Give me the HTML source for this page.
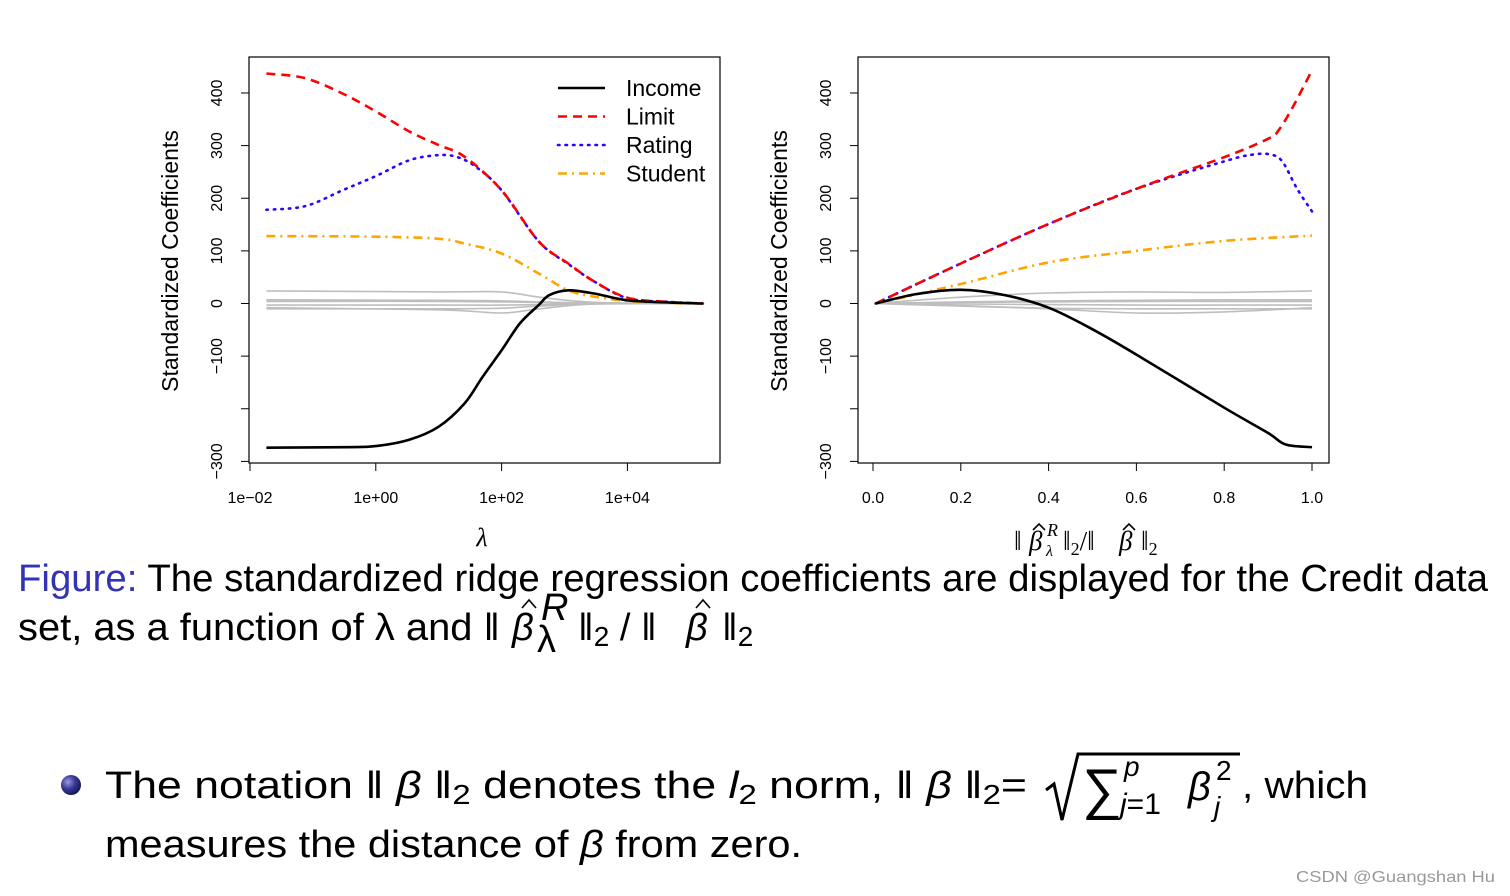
<!DOCTYPE html>
<html><head><meta charset="utf-8"><style>
html,body{margin:0;padding:0;background:#fff;}
svg{display:block;}
.tk{font-family:"Liberation Sans",sans-serif;font-size:16px;fill:#000;}
.cap{font-family:"Liberation Sans Narrow","Liberation Sans",sans-serif;font-size:38px;fill:#000;}
.hat{fill:none;stroke:#000;stroke-width:1.6;}
</style></head><body>
<svg id="root" width="1510" height="896" viewBox="0 0 1510 896" xmlns="http://www.w3.org/2000/svg">
<g id="left"></g>
<g id="right"></g>

<text x="482" y="546" font-family="Liberation Serif,serif" font-style="italic" font-size="26" text-anchor="middle">λ</text>
<g font-family="Liberation Serif,serif" font-size="27">
<text x="1014" y="550">‖</text>
<text x="1029" y="550" font-style="italic">β</text>
<path class="hat" d="M1033,530 L1039,524 L1045,530"/>
<text x="1047" y="536" font-size="18" font-style="italic">R</text>
<text x="1046" y="556" font-size="16" font-style="italic">λ</text>
<text x="1063" y="550">‖<tspan font-size="18" dy="5">2</tspan><tspan dy="-5">/‖</tspan></text>
<text x="1119" y="550" font-style="italic">β</text>
<path class="hat" d="M1123,530 L1129,524 L1135,530"/>
<text x="1141" y="550">‖<tspan font-size="18" dy="5">2</tspan></text>
</g>

<text class="cap" x="18" y="591" textLength="1470" lengthAdjust="spacingAndGlyphs"><tspan fill="#3333b3">Figure:</tspan> The standardized ridge regression coefficients are displayed for the Credit data</text>
<g>
<text class="cap" x="18" y="640" textLength="482" lengthAdjust="spacingAndGlyphs">set, as a function of λ and ‖</text>
<text class="cap" x="512" y="640" font-style="italic">β</text>
<path class="hat" stroke-width="2" d="M522,608 L529,600 L536,608"/>
<text class="cap" x="541" y="620" font-size="26" font-style="italic">R</text>
<text class="cap" x="537" y="652" font-size="26">λ</text>
<text class="cap" x="578" y="640">‖<tspan font-size="28" dy="6">2</tspan><tspan dy="-6"> / ‖</tspan></text>
<text class="cap" x="686" y="640" font-style="italic">β</text>
<path class="hat" stroke-width="2" d="M696,608 L703,600 L710,608"/>
<text class="cap" x="722" y="640">‖<tspan font-size="28" dy="6">2</tspan></text>
</g>

<defs><radialGradient id="bg" cx="0.35" cy="0.35" r="0.7"><stop offset="0" stop-color="#9a9ae0"/><stop offset="0.5" stop-color="#3a3a9a"/><stop offset="1" stop-color="#14144a"/></radialGradient></defs>
<circle cx="71" cy="785" r="10" fill="url(#bg)"/>
<text class="cap" x="105" y="798" textLength="922" lengthAdjust="spacingAndGlyphs">The notation ‖ <tspan font-style="italic">β</tspan> ‖<tspan font-size="28" dy="6">2</tspan><tspan dy="-6"> denotes the </tspan><tspan font-style="italic">l</tspan><tspan font-size="28" dy="6">2</tspan><tspan dy="-6"> norm, ‖ </tspan><tspan font-style="italic">β</tspan> ‖<tspan font-size="28" dy="6">2</tspan><tspan dy="-6">=</tspan></text>
<g font-family="Liberation Sans,sans-serif">
<path d="M1046,790 L1054,784 L1062,820 L1078,754 L1240,754" fill="none" stroke="#000" stroke-width="3"/>
<text x="1082" y="808" font-size="56">∑</text>
<text x="1124" y="776" font-size="28" font-style="italic">p</text>
<text x="1120" y="814" font-size="30"><tspan font-style="italic">j</tspan>=1</text>
<text x="1188" y="800" font-size="40" font-style="italic">β</text>
<text x="1216" y="780" font-size="28">2</text>
<text x="1214" y="816" font-size="28" font-style="italic">j</text>
</g>
<text class="cap" x="1242" y="798" textLength="126" lengthAdjust="spacingAndGlyphs">, which</text>
<text class="cap" x="105" y="857" textLength="697" lengthAdjust="spacingAndGlyphs">measures the distance of <tspan font-style="italic">β</tspan> from zero.</text>
<text x="1296" y="882" font-family="Liberation Sans,sans-serif" font-size="16" fill="#999" textLength="199" lengthAdjust="spacingAndGlyphs">CSDN @Guangshan Hu</text>
</svg>
<script>
// ---- Left plot data (x = log10 lambda) ----
const leftIncomeX = [-1.74,-0.5,0,0.53,1,1.41,1.7,2,2.29,2.59,2.76,3.06,3.47,4,4.65,5.2];
const leftIncomeY = [-274,-273,-271,-259,-234,-190,-139,-89,-38,-3,16,25,19,6,2,0];
const leftLimitX = [-1.74,-1.12,-0.53,0,0.53,1,1.41,2,2.59,3.06,3.47,4,4.65,5.2];
const leftLimitY = [437,428,399,365,327,301,279,215,118,76,42,11,3,0];
const leftRatingX = [-1.74,-1.12,-0.53,0,0.53,1,1.3,1.6,2,2.59,3.06,3.47,4,4.65,5.2];
const leftRatingY = [178,185,215,242,272,282,278,259,215,118,75,42,10,3,0];
const leftStudentX = [-1.74,0,1,1.41,2,2.59,3.06,3.47,4,4.65,5.2];
const leftStudentY = [128,127,123,114,95,57,25,13,5,1,0];
const leftGrayX = [-1.74,1,2,2.6,3.5,5.2];
const leftGray1 = [24,22,22,12,2,0];
const leftGray2 = [7,6,5,3,1,0];
const leftGray3 = [4,4,3,2,0,0];
const leftGray4 = [-3,-3,-3,-2,0,0];
const leftGray5 = [-8,-12,-18,-10,-1,0];
const leftGray6 = [-10,-10,-9,-5,-1,0];
// ---- Right plot data (x = norm ratio) ----
const rightIncomeX = [0.006,0.1,0.2,0.3,0.4,0.5,0.6,0.8,0.9,0.94,1.0];
const rightIncomeY = [0,18,26,16,-8,-49,-97,-198,-246,-268,-273];
const rightLimitX = [0.006,0.2,0.4,0.6,0.8,0.9,0.924,0.958,1.0];
const rightLimitY = [0,76,151,218,278,313,329,376,443];
const rightRatingX = [0.006,0.2,0.4,0.6,0.8,0.865,0.907,0.933,0.966,1.0];
const rightRatingY = [0,76,151,218,270,283,283,269,218,175];
const rightStudentX = [0.006,0.2,0.4,0.6,0.8,1.0];
const rightStudentY = [0,37,78,100,119,129];
const rightGrayX = [0.006,0.2,0.4,0.6,0.8,1.0];
const rightGray1 = [0,12,20,22,21,24];
const rightGray2 = [0,3,5,6,7,7];
const rightGray3 = [0,2,3,4,4,4];
const rightGray4 = [0,-1,-2,-3,-3,-3];
const rightGray5 = [0,-4,-10,-18,-16,-8];
const rightGray6 = [0,-5,-9,-10,-10,-10];
// ---- Ticks ----
const yTicks = [-300,-200,-100,0,100,200,300,400];
const yTickLabels = ["\u2212300","","\u2212100","0","100","200","300","400"];
const leftXTicks = [-2,0,2,4];
const leftXTickLabels = ["1e\u221202","1e+00","1e+02","1e+04"];
const rightXTicks = [0,0.2,0.4,0.6,0.8,1.0];
const rightXTickLabels = ["0.0","0.2","0.4","0.6","0.8","1.0"];
const legendNames = ["Income","Limit","Rating","Student"];

const NS="http://www.w3.org/2000/svg";
function yS(v){return 303.5 - v*0.5263;}
function xL(l){return 250 + (l+2)*62.9;}
function xR(r){return 873 + r*439;}
const styles={
 income:{stroke:"#000",w:2.6,dash:""},
 limit:{stroke:"#ff0000",w:2.6,dash:"9 6"},
 rating:{stroke:"#3300ff",w:2.6,dash:"1.5 6"},
 student:{stroke:"#ffa500",w:2.6,dash:"9 5 2 5"},
 gray:{stroke:"#bebebe",w:1.6,dash:""}
};
function smoothPath(pts){
  let d="M"+pts[0][0].toFixed(1)+","+pts[0][1].toFixed(1);
  for(let i=0;i<pts.length-1;i++){
    const p0=pts[i-1]||pts[i],p1=pts[i],p2=pts[i+1],p3=pts[i+2]||p2;
    const c1=[p1[0]+(p2[0]-p0[0])/6,p1[1]+(p2[1]-p0[1])/6];
    const c2=[p2[0]-(p3[0]-p1[0])/6,p2[1]-(p3[1]-p1[1])/6];
    d+=" C"+c1[0].toFixed(1)+","+c1[1].toFixed(1)+" "+c2[0].toFixed(1)+","+c2[1].toFixed(1)+" "+p2[0].toFixed(1)+","+p2[1].toFixed(1);
  }
  return d;
}
function mk(tag,attrs,parent){const e=document.createElementNS(NS,tag);for(const k in attrs)e.setAttribute(k,attrs[k]);parent.appendChild(e);return e;}
function series(g,xs,ys,xf,st,name){
  const pts=xs.map((x,i)=>[xf(x),yS(ys[i])]);
  const p=mk("path",{d:smoothPath(pts),fill:"none",stroke:st.stroke,"stroke-width":st.w,"stroke-dasharray":st.dash,"stroke-linecap":st.dash.startsWith("1.5")?"round":"butt"},g);
  
  
}
function axes(g,x0,x1,xTicks,xLabels,xf,yLabX,titleX,prefix){
  const box=mk("rect",{x:x0,y:57,width:x1-x0,height:406,fill:"none",stroke:"#000","stroke-width":1.2},g);
  
  
  yTicks.forEach((v,i)=>{
    const y=yS(v);
    const t=mk("line",{x1:x0,x2:x0-8,y1:y,y2:y,stroke:"#000","stroke-width":1},g);
    
    
    if(yTickLabels[i]){
      const tx=mk("text",{class:"tk",x:0,y:0,"text-anchor":"middle",transform:"translate("+(yLabX)+","+y+") rotate(-90)"},g);
      tx.textContent=yTickLabels[i];
      
      
    }
  });
  xTicks.forEach((v,i)=>{
    const x=xf(v);
    const t=mk("line",{x1:x,x2:x,y1:463,y2:471,stroke:"#000","stroke-width":1},g);
    
    
    const tx=mk("text",{class:"tk",x:x,y:503,"text-anchor":"middle"},g);
    tx.textContent=xLabels[i];
    
    
  });
  const ttl=mk("text",{x:0,y:0,"font-family":"Liberation Sans,sans-serif","font-size":"23","text-anchor":"middle",transform:"translate("+titleX+",261) rotate(-90)"},g);
  ttl.textContent="Standardized Coefficients";
  
  
}
const L=document.getElementById("left"), R=document.getElementById("right");
axes(L,249,720,leftXTicks,leftXTickLabels,xL,222,178,"left");
axes(R,858,1329,rightXTicks,rightXTickLabels,xR,831,787,"right");
[leftGray1,leftGray2,leftGray3,leftGray4,leftGray5,leftGray6].forEach(a=>series(L,leftGrayX,a,xL,styles.gray,"left-other-predictor-line"));
series(L,leftStudentX,leftStudentY,xL,styles.student,"left-student-line");
series(L,leftRatingX,leftRatingY,xL,styles.rating,"left-rating-line");
series(L,leftLimitX,leftLimitY,xL,styles.limit,"left-limit-line");
series(L,leftIncomeX,leftIncomeY,xL,styles.income,"left-income-line");
[rightGray1,rightGray2,rightGray3,rightGray4,rightGray5,rightGray6].forEach(a=>series(R,rightGrayX,a,xR,styles.gray,"right-other-predictor-line"));
series(R,rightStudentX,rightStudentY,xR,styles.student,"right-student-line");
series(R,rightRatingX,rightRatingY,xR,styles.rating,"right-rating-line");
series(R,rightLimitX,rightLimitY,xR,styles.limit,"right-limit-line");
series(R,rightIncomeX,rightIncomeY,xR,styles.income,"right-income-line");
// legend
const lg=mk("g",{},L);


const keys=["income","limit","rating","student"];
legendNames.forEach((n,i)=>{
  const y=88+i*28.5;
  const st=styles[keys[i]];
  const ln=mk("line",{x1:558,x2:605,y1:y,y2:y,stroke:st.stroke,"stroke-width":2.6,"stroke-dasharray":st.dash,"stroke-linecap":keys[i]==="rating"?"round":"butt"},lg);
  
  
  const t=mk("text",{x:626,y:y+8,"font-family":"Liberation Sans,sans-serif","font-size":"23"},lg);
  t.textContent=n;
  
  
});
</script>
</body></html>
